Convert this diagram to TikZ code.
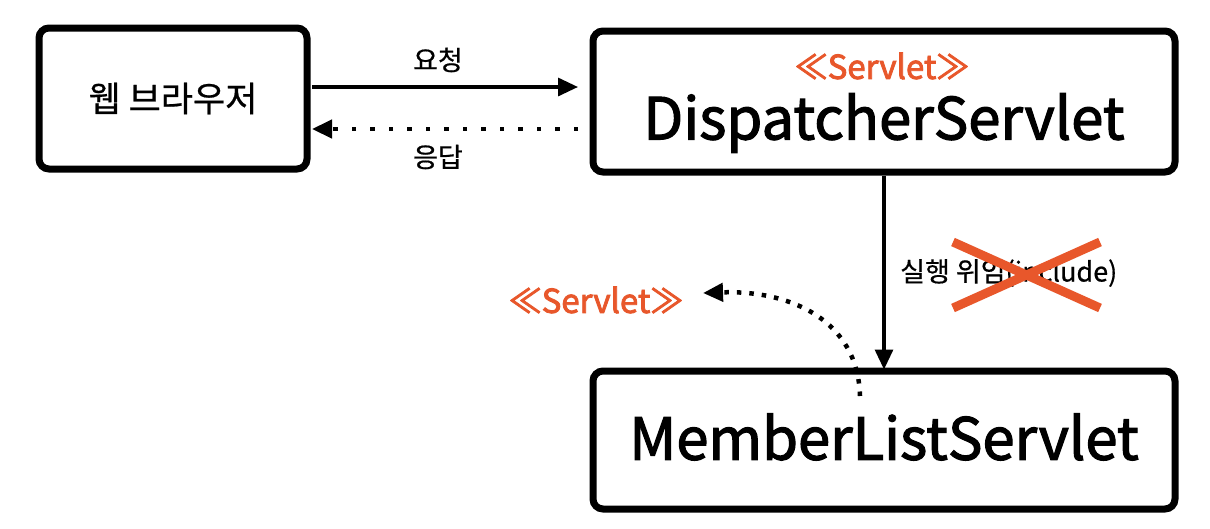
\documentclass[tikz,border=0pt]{standalone}
\usepackage{fontspec}
\setmainfont{Noto Sans CJK KR}[FakeBold=0.6]
\newfontfamily\medfont{Noto Sans CJK KR}[FakeBold=2]
\newfontfamily\semifont{Noto Sans CJK KR}[FakeBold=2.5]
\usetikzlibrary{arrows.meta}
\definecolor{accent}{HTML}{E8572B}
\begin{document}
\begin{tikzpicture}[x=1pt,y=-1pt,
  box/.style={draw=black,line width=7pt,rounded corners=10pt,inner sep=0pt,fill=white},
  solidarrow/.style={line width=3.2pt,-{Triangle[length=20pt,width=18pt]}},
  dotarrow/.style={line width=4.5pt,dash pattern=on 4.5pt off 14pt,-{Triangle[length=20pt,width=18pt]}},
  lbl/.style={font=\fontsize{27}{30}\selectfont,inner sep=0pt},
  title/.style={font=\medfont\fontsize{58}{62}\selectfont,inner sep=0pt},
  stereo/.style={text=accent,font=\semifont\fontsize{33}{36}\selectfont,inner sep=0pt}]
\useasboundingbox[fill=white] (0,0) rectangle (1210,528);
\node[box,minimum width=268pt,minimum height=141pt,font=\fontsize{35}{38}\selectfont] (b1) at (173,98.5) {웹 브라우저};
\node[box,minimum width=582pt,minimum height=141pt] (b2) at (884,101.5) {};
\node[box,minimum width=582pt,minimum height=138pt] (b3) at (884,440) {};
\node[stereo] (s1) at (882,66) {≪Servlet≫};
\node[title] (t2) at (884,123) {DispatcherServlet};
\node[title] (t3) at (884,437) {MemberListServlet};
\node[stereo] (s2) at (596,300) {≪Servlet≫};
\coordinate (reqA) at (312,87);
\coordinate (reqB) at (578,87);
\coordinate (resA) at (578,129);
\coordinate (resB) at (312,129);
\draw[solidarrow] (reqA) -- (reqB);
\draw[dotarrow] (resA) -- (resB);
\node[lbl] (l1) at (438,60) {요청};
\node[lbl] (l2) at (438,157) {응답};
\draw[solidarrow] (b2.south) -- ([yshift=-2pt]b3.north);
\node[lbl,anchor=west] (l3) at (900,273) {실행 위임(include)};
\coordinate (c1) at (953,242);
\coordinate (c2) at (1100,308);
\coordinate (c3) at (1100,242);
\coordinate (c4) at (953,308);
\draw[accent,line width=9pt] (c1) -- (c2);
\draw[accent,line width=9pt] (c3) -- (c4);
\coordinate (cs) at (860,396);
\coordinate (ct) at (703,293);
\draw[line width=4.5pt,dash pattern=on 4.5pt off 8pt,-{Triangle[length=20pt,width=18pt]}] (cs) .. controls (858,320) and (790,290) .. (ct);
\end{tikzpicture}
\end{document}
